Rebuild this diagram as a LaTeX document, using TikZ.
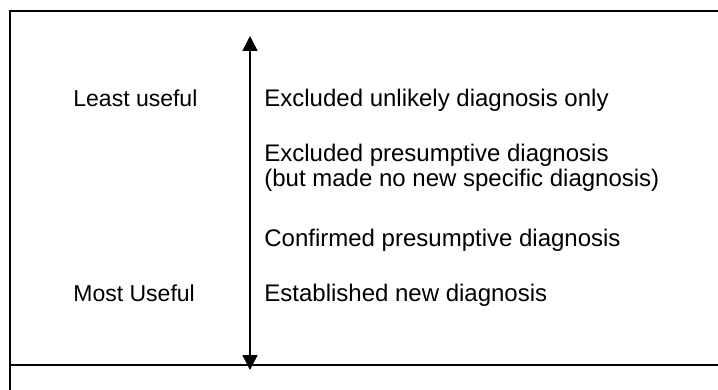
\documentclass[tikz,border=0pt]{standalone}
\usepackage{fontspec}
\setmainfont{Liberation Sans}
\usetikzlibrary{arrows.meta}

\begin{document}
\begin{tikzpicture}[x=0.5pt,y=-0.5pt,>={Triangle[width=7.5pt,length=7.5pt]},
	font=\fontsize{11.5}{12.5}\selectfont]
	\tikzstyle{every node}=[inner sep=0pt,anchor=base west,text=black]
	\tikzstyle{frame}=[line width=1pt]
	\tikzstyle{level}=[font=\fontsize{12}{13}\selectfont]
	\useasboundingbox (0,0) rectangle (718,390);

	% frame
	\coordinate (TR) at (718,11);
	\coordinate (TL) at (9.5,11);
	\coordinate (BL) at (9.5,390);
	\coordinate (ML) at (9.5,365);
	\coordinate (MR) at (718,365);
	\draw[frame] (TR) -- (TL) -- (BL);
	\draw[frame] (ML) -- (MR);

	% scale
	\coordinate (top) at (250,36);
	\coordinate (bot) at (250,370);
	\draw[<->,line width=0.8pt] (top) -- (bot);

	\node (least) at (73,106.5) {Least useful};
	\node (most)  at (73,301.5) {Most Useful};

	\node[level] (unlikely) at (264,106.5) {Excluded unlikely diagnosis only};
	\node[level] (presA)    at (264,161.5) {Excluded presumptive diagnosis};
	\node[level] (presB)    at (264,186.5) {(but made no new specific diagnosis)};
	\node[level] (confirm)  at (264,246.5) {Confirmed presumptive diagnosis};
	\node[level] (new)      at (264,301.5) {Established new diagnosis};
\end{tikzpicture}
\end{document}
